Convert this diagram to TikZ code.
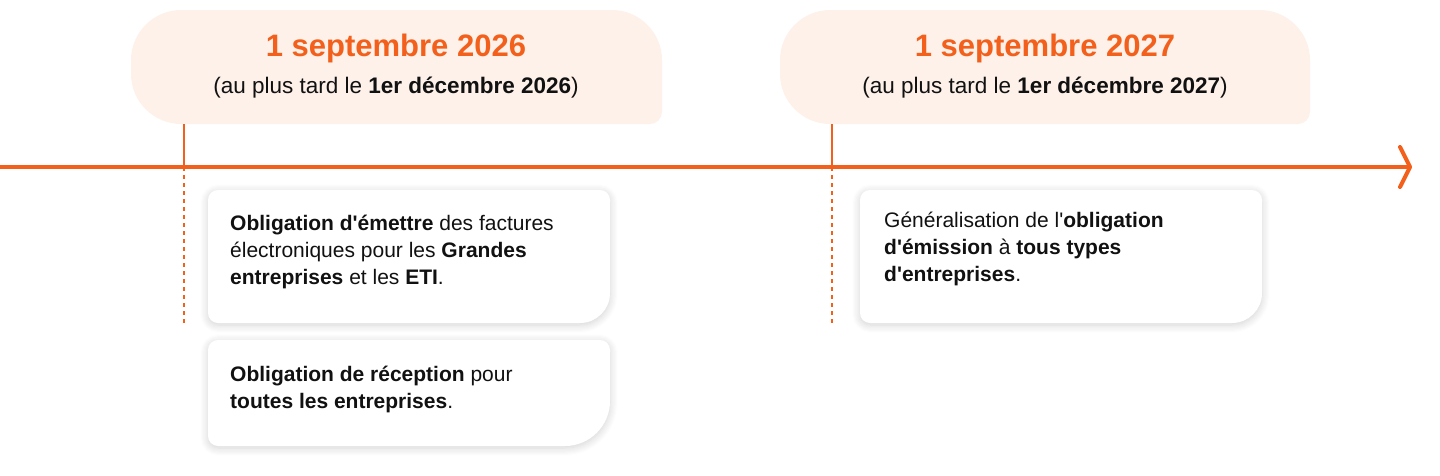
\documentclass[tikz,border=0pt]{standalone}
\usepackage{fontspec}
\setmainfont{Liberation Sans}
\usetikzlibrary{arrows.meta, positioning, shadows.blur}
\definecolor{timeorange}{HTML}{F2601C}
\definecolor{headfill}{HTML}{FDF1EA}
\definecolor{textdark}{HTML}{111111}

% panel with its own corner radii: x1, y1, x2, y2, then tl, tr, br, bl (numbers)
\newcommand{\rc}[4]{% corner from (#1) via vertex (#2) to (#3)
  .. controls ($(#1)!0.55!(#2)$) and ($(#3)!0.55!(#2)$) .. (#3)}
\newcommand{\panelpath}[8]{%
  ({#1+#5},#2) -- ({#3-#6},#2)
  .. controls ({#3-0.45*#6},#2) and (#3,{#2+0.45*#6}) .. (#3,{#2+#6})
  -- (#3,{#4-#7})
  .. controls (#3,{#4-0.45*#7}) and ({#3-0.45*#7},#4) .. ({#3-#7},#4)
  -- ({#1+#8},#4)
  .. controls ({#1+0.45*#8},#4) and (#1,{#4-0.45*#8}) .. (#1,{#4-#8})
  -- (#1,{#2+#5})
  .. controls (#1,{#2+0.45*#5}) and ({#1+0.45*#5},#2) .. ({#1+#5},#2) -- cycle}

\begin{document}
\begin{tikzpicture}[x=1pt, y=-1pt,
    headtitle/.style={font=\fontsize{31}{34}\selectfont\bfseries, text=timeorange, inner sep=0pt},
    headsub/.style={font=\fontsize{22.5}{26}\selectfont, text=textdark, inner sep=0pt},
    cardtext/.style={font=\fontsize{21}{27}\selectfont, text=textdark, anchor=north west, align=left, inner sep=0pt},
    card/.style={fill=white, blur shadow={shadow xshift=0pt, shadow yshift=-2pt, shadow blur steps=8, shadow blur radius=8pt, shadow opacity=18}},
    tick/.style={timeorange, line width=1.6pt},
    dots/.style={timeorange, line width=1.6pt, dash pattern=on 4pt off 4pt}
]
\useasboundingbox (0,0) rectangle (1440,475);

% headers
\fill[headfill] \panelpath{131}{10}{662}{124}{50}{50}{12}{50};
\fill[headfill] \panelpath{780}{10}{1310}{124}{50}{50}{12}{50};
\node[headtitle] (t26) at (396,48) {1 septembre 2026};
\node[headsub] (s26) at (396,88) {(au plus tard le \textbf{1er décembre 2026})};
\node[headtitle] (t27) at (1045,48) {1 septembre 2027};
\node[headsub] (s27) at (1045,88) {(au plus tard le \textbf{1er décembre 2027})};

% timeline
\coordinate (start) at (0,167);
\coordinate (end) at (1412,167);
\draw[timeorange, line width=4pt, -{Straight Barb[length=10pt, width=40pt, line join=round, line cap=round]}] (start) -- (end);

\coordinate (h26) at (184,124);
\coordinate (m26) at (184,167);
\coordinate (e26) at (184,323);
\coordinate (h27) at (832,124);
\coordinate (m27) at (832,167);
\coordinate (e27) at (832,323);
\draw[tick] (h26) -- (m26);
\draw[dots] (m26) -- (e26);
\draw[tick] (h27) -- (m27);
\draw[dots] (m27) -- (e27);

% cards
\path[card] \panelpath{208}{190}{610}{323}{10}{10}{30}{10};
\path[card] \panelpath{208}{340}{610}{446}{10}{10}{45}{10};
\path[card] \panelpath{860}{190}{1262}{323}{10}{10}{30}{10};

\node[cardtext] (emit) at (230,215) {\textbf{Obligation d\textquotesingle émettre} des factures\\électroniques pour les \textbf{Grandes}\\\textbf{entreprises} et les \textbf{ETI}.};
\node[cardtext] (recv) at (230,366) {\textbf{Obligation de réception} pour\\\textbf{toutes les entreprises}.};
\node[cardtext] (gen) at (884,212) {Généralisation de l\textquotesingle\textbf{obligation}\\\textbf{d\textquotesingle émission} à \textbf{tous types}\\\textbf{d\textquotesingle entreprises}.};
\end{tikzpicture}
\end{document}
